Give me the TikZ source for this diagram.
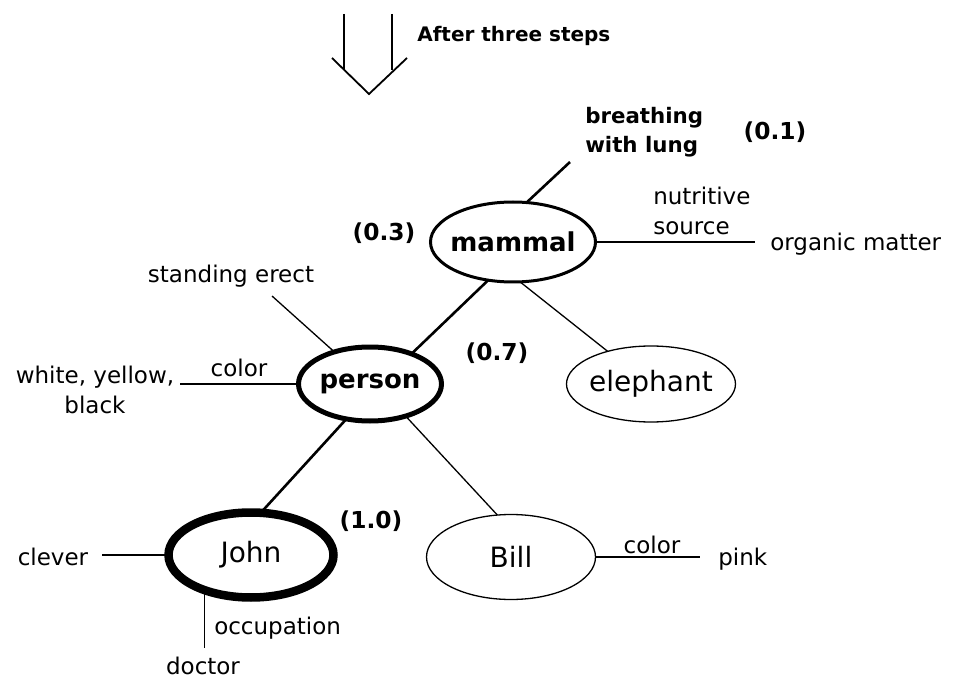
\documentclass[tikz,border=0pt]{standalone}
\usepackage{fontspec}
\setmainfont{DejaVu Sans}
\usetikzlibrary{shapes.geometric}

\tikzset{
  % one unit = one pixel of a 954 x 681 canvas, y pointing down
  x=0.75pt, y=-0.75pt,
  concept/.style={ellipse, draw, inner sep=0pt, outer sep=0pt},
  conceptname/.style={inner sep=0pt, font=\fontsize{21}{24}\selectfont},
  boldname/.style={inner sep=0pt, font=\bfseries\fontsize{19.5}{22}\selectfont},
  attr/.style={inner sep=0pt, font=\fontsize{17.25}{22.5}\selectfont},
  weight/.style={inner sep=0pt, font=\bfseries\fontsize{17.5}{20}\selectfont},
  heading/.style={inner sep=0pt, font=\bfseries\fontsize{15}{18}\selectfont},
  strong/.style={line width=0.75*2.6pt},
  thin/.style={line width=0.75*1.3pt},
}

\begin{document}
\begin{tikzpicture}
\useasboundingbox (0,0) rectangle (954,681);

% ---- hollow "next" arrow and its caption
\coordinate (al) at (344,14);
\coordinate (ar) at (392,14);
\coordinate (tipl) at (332,58);
\coordinate (tip) at (369,94);
\coordinate (tipr) at (407,58);
\draw[thin] (al) -- (344,70);
\draw[thin] (ar) -- (392,70);
\draw[line width=0.75*1.8pt, line join=miter] (tipl) -- (tip) -- (tipr);
\node[heading, anchor=west] (caption) at (417,36) {After three steps};

% ---- concept nodes
\node[concept, line width=0.75*3pt, minimum width=0.75*165pt, minimum height=0.75*80pt,
      label={[boldname]center:mammal}] (mammal) at (513,242) {};
\node[concept, line width=0.75*5pt, minimum width=0.75*143pt, minimum height=0.75*74pt,
      label={[boldname]center:person}] (person) at (370,384) {};
\node[concept, line width=0.75*8.5pt, minimum width=0.75*165pt, minimum height=0.75*85pt,
      label={[conceptname]center:John}] (john) at (251,555) {};
\node[concept, thin, minimum width=0.75*169pt, minimum height=0.75*76pt,
      label={[conceptname]center:elephant}] (elephant) at (651,384) {};
\node[concept, thin, minimum width=0.75*169pt, minimum height=0.75*85pt,
      label={[conceptname]center:Bill}] (bill) at (511,557) {};

% ---- activation weights
\node[weight] (w01) at (775,132) {(0.1)};
\node[weight] (w03) at (384,233) {(0.3)};
\node[weight] (w07) at (497,353) {(0.7)};
\node[weight] (w10) at (371,521) {(1.0)};

% ---- is-a links
\draw[strong] (mammal.-123) -- (person.36);
\draw[strong] (person.-124) -- (john.77);
\draw[thin] (mammal.-80) -- (elephant.143);
\draw[thin] (person.-42) -- (bill.108);

% ---- mammal attributes
\node[heading, font=\bfseries\fontsize{16}{21.75}\selectfont, align=left, anchor=west]
  (breath) at (585,132) {breathing\\with lung};
\coordinate (breathend) at (570,162);
\draw[strong] (mammal.71) -- (breathend);

\node[attr, align=left, anchor=west] (nutri) at (653,211) {nutritive\\source};
\coordinate (organicend) at (755,242);
\draw[thin] (mammal.east) -- (organicend);
\node[attr, anchor=west] (organic) at (770,244) {organic matter};

% ---- person attributes
\node[attr] (erect) at (231,276) {standing erect};
\coordinate (erectend) at (272,296);
\draw[thin] (person.138) -- (erectend);

\node[attr, align=center] (colors) at (95,390) {white, yellow,\\black};
\coordinate (pcolorend) at (180,384);
\draw[thin] (person.west) -- (pcolorend);
\node[attr] (pcolor) at (239,368) {color};

% ---- John attributes
\node[attr] (clever) at (53,557) {clever};
\coordinate (cleverend) at (102,555);
\draw[thin] (john.west) -- (cleverend);

\coordinate (occend) at (204,648);
\draw[thin] (john.-143) -- (john.-143 |- occend);
\node[attr, anchor=west] (occ) at (214,628) {occupation};
\node[attr] (doctor) at (203,666) {doctor};

% ---- Bill attributes
\coordinate (billend) at (700,557);
\draw[thin] (bill.east) -- (billend);
\node[attr] (bcolor) at (652,545) {color};
\node[attr, anchor=west] (pink) at (718,559) {pink};
\end{tikzpicture}
\end{document}
